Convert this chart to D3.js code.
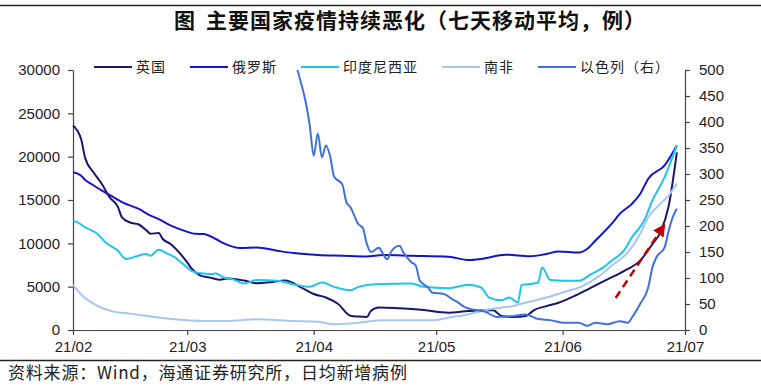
<!DOCTYPE html>
<html>
<head>
<meta charset="utf-8">
<script src="https://cdn.jsdelivr.net/npm/d3@7"></script>
<style>
  body { margin: 0; background: #fff; }
  .tick text { font-family: "Liberation Sans", Arial, sans-serif; font-size: 15px; fill: #222; }
  .axis path, .axis line { stroke: #444; stroke-width: 1.2; }
</style>
</head>
<body>
<svg id="chart" width="761" height="385"></svg>
<script>
// daily new cases, 7-day moving average  [date (2021), value]
const ukData = [
  ['02-01',23600],['02-03',22000],['02-04',19800],['02-06',18200],['02-08',16900],['02-10',15300],
  ['02-12',14200],['02-13',13000],['02-15',12400],['02-17',12200],['02-19',11500],['02-20',11100],
  ['02-22',11200],['02-23',10500],['02-25',9900],['02-27',8950],['03-01',7800],['03-02',7140],
  ['03-04',6330],['03-07',6000],['03-09',5800],['03-11',5950],['03-15',5700],['03-18',5400],
  ['03-22',5550],['03-25',5700],['03-29',4900],['04-01',4150],['04-04',3750],['04-07',3000],
  ['04-10',1650],['04-12',1550],['04-14',1500],['04-15',2200],['04-17',2600],['04-22',2500],
  ['04-28',2300],['05-04',2000],['05-09',2200],['05-15',2280],['05-17',1620],['05-20',1500],
  ['05-23',1620],['05-25',2300],['05-28',2750],['05-31',3150],['06-04',3950],['06-08',4900],
  ['06-12',5850],['06-16',6800],['06-20',8000],['06-23',9900],['06-25',11300],['06-27',14300],
  ['06-29',20500]
];
const russiaData = [
  ['02-01',18200],['02-03',17800],['02-04',17300],['02-06',16700],['02-08',16100],['02-11',15300],
  ['02-13',14750],['02-17',14000],['02-20',13200],['02-22',12800],['02-25',12050],['02-28',11500],
  ['03-03',11100],['03-05',11080],['03-08',10500],['03-10',10000],['03-14',9460],['03-18',9530],
  ['03-23',9150],['03-27',8880],['04-02',8650],['04-08',8570],['04-14',8490],['04-18',8650],
  ['04-25',8570],['05-04',8460],['05-09',8070],['05-12',8190],['05-18',8690],['05-24',8500],
  ['05-28',8770],['05-31',9070],['06-05',8950],['06-07',9350],['06-09',10300],['06-13',12240],
  ['06-15',13400],['06-18',14560],['06-20',15700],['06-22',17460],['06-26',19000],['06-29',21300]
];
const indonesiaData = [
  ['02-01',12600],['02-02',12450],['02-04',11850],['02-07',11080],['02-09',10100],['02-12',9150],
  ['02-14',8200],['02-17',8570],['02-19',8770],['02-20',8570],['02-22',9270],['02-24',8840],
  ['02-26',8370],['02-28',7610],['03-02',6830],['03-04',6570],['03-07',6450],['03-08',6520],
  ['03-10',6060],['03-12',5870],['03-15',5360],['03-18',5760],['03-23',5680],['03-27',5290],
  ['03-31',4980],['04-03',5480],['04-06',4980],['04-10',4600],['04-12',4980],['04-16',5290],
  ['04-25',5360],['04-28',4980],['05-04',4830],['05-09',5210],['05-12',4900],['05-14',3740],
  ['05-17',3440],['05-19',3740],['05-21',3160],['05-22',5210],['05-25',5360],['05-26',5480],
  ['05-27',7200],['05-29',5760],['06-01',5680],['06-05',5680],['06-08',6450],['06-11',7220],
  ['06-13',7990],['06-16',9150],['06-18',10700],['06-21',12630],['06-23',14940],['06-26',17640],
  ['06-29',21300]
];
const southAfricaData = [
  ['02-01',5200],['02-03',4100],['02-07',2780],['02-11',2120],['02-15',1890],['02-21',1510],
  ['02-26',1240],['03-05',1040],['03-11',1040],['03-18',1240],['03-27',1040],['04-02',950],
  ['04-06',660],['04-12',850],['04-18',1120],['04-30',1120],['05-04',1420],['05-09',1820],
  ['05-14',2400],['05-20',2780],['05-24',3280],['05-28',3740],['06-01',4320],['06-06',5100],
  ['06-10',6250],['06-13',7410],['06-17',8950],['06-20',11080],['06-22',13010],['06-25',14560],
  ['06-27',15520],['06-29',16900]
];
// right axis
const israelData = [
  ['03-28',500],['03-29',472],['03-30',440],['03-31',395],['04-01',335],['04-02',378],
  ['04-03',332],['04-04',355],['04-05',335],['04-06',295],['04-08',280],['04-09',246],
  ['04-10',236],['04-12',203],['04-13',197],['04-14',166],['04-15',150],['04-17',158],
  ['04-18',146],['04-19',136],['04-20',151],['04-22',162],['04-23',149],['04-25',130],
  ['04-26',124],['04-27',95],['04-29',82],['04-30',72],['05-03',69],['05-05',59],
  ['05-06',55],['05-08',44],['05-11',38],['05-13',35],['05-16',25],['05-20',27],
  ['05-23',30],['05-26',21],['05-29',19],['06-01',14],['06-05',14],['06-07',8],
  ['06-09',14],['06-12',11],['06-15',17],['06-17',14],['06-18',24],['06-20',50],
  ['06-22',82],['06-23',120],['06-24',140],['06-26',159],['06-27',191],['06-28',217],
  ['06-29',233]
];

const leftTicks = [0, 5000, 10000, 15000, 20000, 25000, 30000];
const rightTicks = [0, 50, 100, 150, 200, 250, 300, 350, 400, 450, 500];
const monthTicks = ['02-01', '03-01', '04-01', '05-01', '06-01', '07-01'];
const monthLabels = ['21/02', '21/03', '21/04', '21/05', '21/06', '21/07'];

// red trend arrow, in data units (left axis)
const arrowFrom = ['06-14', 3700];
const arrowTo = ['06-26', 12150];

const series = [
  { name: '英国', data: ukData, color: '#17176c', axis: 'left' },
  { name: '俄罗斯', data: russiaData, color: '#1414c8', axis: 'left' },
  { name: '印度尼西亚', data: indonesiaData, color: '#1ec4ee', axis: 'left' },
  { name: '南非', data: southAfricaData, color: '#a7c7f0', axis: 'left' },
  { name: '以色列（右）', data: israelData, color: '#4170dc', axis: 'right' }
];

let svg = d3.select('#chart');
const parseDay = d3.timeParse('%Y-%m-%d');
const day = (s) => parseDay('2021-' + s);

let x = d3.scaleTime().domain([day('02-01'), day('07-01')]).range([73, 685]);
let yLeft = d3.scaleLinear().domain([0, 30000]).range([330, 70]);
let yRight = d3.scaleLinear().domain([0, 500]).range([330, 70]);

// frame lines + title + source
svg.append('line').attr('x1', 0).attr('x2', 761).attr('y1', 5.5).attr('y2', 5.5)
  .attr('stroke', '#222').attr('stroke-width', 1.5);
svg.append('line').attr('x1', 0).attr('x2', 761).attr('y1', 360.5).attr('y2', 360.5)
  .attr('stroke', '#222').attr('stroke-width', 1.5);

const titleStyle = (sel) => sel
  .style('font-family', '"Noto Sans CJK SC", sans-serif')
  .style('font-weight', 'bold')
  .style('font-size', '21px')
  .attr('fill', '#111');

svg.append('text').attr('x', 174).attr('y', 28).call(titleStyle).text('图');
svg.append('text').attr('x', 206).attr('y', 28).call(titleStyle)
  .style('letter-spacing', '1px')
  .text('主要国家疫情持续恶化（七天移动平均，例）');

svg.append('text')
  .attr('x', 8).attr('y', 379)
  .style('font-family', '"Noto Sans CJK SC", sans-serif')
  .style('font-size', '17px')
  .style('letter-spacing', '0.8px')
  .attr('fill', '#222')
  .text('资料来源：Wind，海通证券研究所，日均新增病例');

// axes
svg.append('g').attr('class', 'axis')
  .attr('transform', 'translate(73,0)')
  .call(d3.axisLeft(yLeft).tickValues(leftTicks).tickSize(5).tickSizeOuter(0).tickPadding(8)
    .tickFormat(d3.format('d')));

svg.append('g').attr('class', 'axis')
  .attr('transform', 'translate(685,0)')
  .call(d3.axisRight(yRight).tickValues(rightTicks).tickSize(5).tickSizeOuter(0).tickPadding(9));

svg.append('g').attr('class', 'axis')
  .attr('transform', 'translate(0,330)')
  .call(d3.axisBottom(x).tickValues(monthTicks.map(day)).tickSize(5).tickSizeOuter(0).tickPadding(6)
    .tickFormat((d, i) => monthLabels[i]));

// lines
series.forEach((s) => {
  let y = s.axis === 'left' ? yLeft : yRight;
  let line = d3.line()
    .x((d) => x(day(d[0])))
    .y((d) => y(d[1]))
    .curve(d3.curveMonotoneX);
  svg.append('path')
    .datum(s.data)
    .attr('d', line)
    .attr('fill', 'none')
    .attr('stroke', s.color)
    .attr('stroke-width', 2)
    .attr('stroke-linejoin', 'round');
});

// arrow
svg.append('defs').append('marker')
  .attr('id', 'head')
  .attr('viewBox', '0 0 10 10')
  .attr('refX', 9).attr('refY', 5)
  .attr('markerWidth', 5).attr('markerHeight', 5)
  .attr('orient', 'auto')
  .append('path').attr('d', 'M0,0 L10,5 L0,10 Z').attr('fill', '#c00000');

svg.append('line')
  .attr('x1', x(day(arrowFrom[0]))).attr('y1', yLeft(arrowFrom[1]))
  .attr('x2', x(day(arrowTo[0]))).attr('y2', yLeft(arrowTo[1]))
  .attr('stroke', '#c00000')
  .attr('stroke-width', 2.5)
  .attr('stroke-dasharray', '8,5')
  .attr('marker-end', 'url(#head)');

// legend
let legend = svg.append('g').attr('transform', 'translate(0,67)');
let lx = 94;
series.forEach((s) => {
  legend.append('line')
    .attr('x1', lx).attr('x2', lx + 38)
    .attr('stroke', s.color).attr('stroke-width', 2);
  let t = legend.append('text')
    .attr('x', lx + 42).attr('y', 5)
    .style('font-family', '"Noto Sans CJK SC", sans-serif')
    .style('font-size', '14px')
    .style('letter-spacing', '1px')
    .attr('fill', '#222')
    .text(s.name);
  lx += 42 + t.node().getComputedTextLength() + 24;
});
</script>
</body>
</html>
